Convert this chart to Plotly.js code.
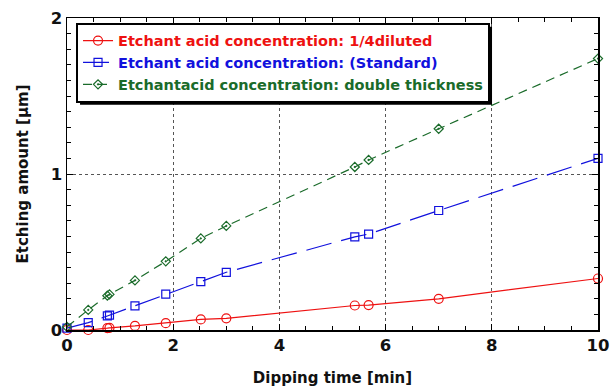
<!DOCTYPE html>
<html><head><meta charset="utf-8">
<script src="https://cdn.plot.ly/plotly-3.0.1.min.js"></script>
<style>body{margin:0;background:#fff}#c{width:610px;height:391px}</style>
</head><body><div id="c"></div>
<script>
const timeMin = [0, 0.4, 0.76, 0.8, 1.28, 1.86, 2.52, 3.0, 5.42, 5.68, 7.0, 10.0];
const diluted = [0.0, 0.0, 0.012, 0.014, 0.026, 0.044, 0.068, 0.075, 0.157, 0.16, 0.2, 0.33];
const standard = [0.012, 0.047, 0.09, 0.095, 0.155, 0.23, 0.31, 0.37, 0.597, 0.615, 0.766, 1.10];
const doubleT = [0.02, 0.129, 0.22, 0.228, 0.318, 0.44, 0.587, 0.667, 1.045, 1.09, 1.29, 1.74];
const names = ['Etchant acid concentration: 1/4diluted','Etchant acid concentration: (Standard)','Etchantacid concentration: double thickness'];
const colors = ['#ee1111','#1111dd','#1a6b2a'];
const xTicks = [0,2,4,6,8,10];
const yTicks = [0,1,2];

const F = 'DejaVu Sans, Verdana, sans-serif';
const traces = [
 {x: timeMin, y: diluted, color: colors[0], dash:'solid', sym:'circle-open', size:9},
 {x: timeMin, y: standard, color: colors[1], dash:'26px,10px', sym:'square-open', size:8},
 {x: timeMin, y: doubleT, color: colors[2], dash:'9px,6px', sym:'diamond-open-dot', size:7}
].map((t,i)=>({
  type:'scatter', mode:'lines+markers', x:t.x, y:t.y, cliponaxis:false,
  name:'<span style="color:'+t.color+'"><b>'+names[i]+'</b></span>',
  line:{color:t.color, width:1.2, dash:t.dash},
  marker:{symbol:t.sym, size:t.size, color:t.color, line:{color:t.color, width:1.2}}
}));

const axBase = {showline:true, linecolor:'#000', linewidth:1.5, mirror:'allticks', ticks:'inside', ticklen:6, tickcolor:'#000',
  showgrid:true, gridcolor:'#555', griddash:'dot', gridwidth:1, zeroline:false,
  tickfont:{family:F, size:16.5, color:'#111', weight:'bold'}};

const layout = {
  width:610, height:391, margin:{l:67, r:12, t:18, b:61},
  paper_bgcolor:'#fff', plot_bgcolor:'#fff', font:{family:F},
  showlegend:true,
  legend:{x:0.017, y:0.985, xanchor:'left', yanchor:'top', bgcolor:'#fff', bordercolor:'#000', borderwidth:2,
    font:{family:F, size:14.5}, tracegroupgap:0, itemwidth:30},
  xaxis:Object.assign({}, axBase, {range:[0,10], tickvals:xTicks, ticktext:xTicks.map(String),
    minor:{dtick:0.5, ticks:'inside', ticklen:4, tickcolor:'#000', showgrid:false},
    title:{text:'<b>Dipping time [min]</b>', font:{family:F, size:15, color:'#111'}, standoff:18}}),
  yaxis:Object.assign({}, axBase, {range:[0,2], tickvals:yTicks, ticktext:yTicks.map(String),
    minor:{dtick:0.1, ticks:'inside', ticklen:4, tickcolor:'#000', showgrid:false},
    title:{text:'<b>Etching amount [μm]</b>', font:{family:F, size:15, color:'#111'}, standoff:18}})
};
Plotly.newPlot('c', traces, layout, {staticPlot:true}).then(gd=>{
  const bg = gd.querySelector('.legend .bg');
  const host = gd.getBoundingClientRect();
  const r = bg.getBoundingClientRect();
  const W = 610-67-12, H = 391-18-61;
  const px = v => (v - 67)/W, py = v => (391-61 - v)/H;
  const x0 = r.left - host.left + 3, x1 = r.right - host.left + 3;
  const y0 = r.top - host.top + 3, y1 = r.bottom - host.top + 3;
  return Plotly.relayout(gd, {shapes:[{type:'rect', xref:'paper', yref:'paper', x0:px(x0), x1:px(x1), y0:py(y1), y1:py(y0),
    fillcolor:'#000', line:{width:0}, layer:'above'}]}).then(()=>{
      const lg = gd.querySelector('.legend');
      lg.parentNode.appendChild(lg);
    });
});
</script></body></html>
